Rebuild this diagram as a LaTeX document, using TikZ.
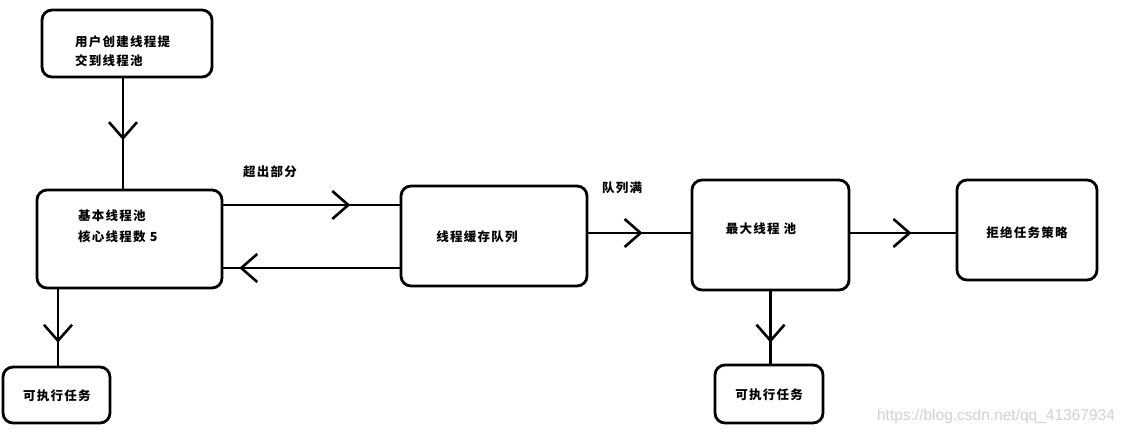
\documentclass[tikz,border=0pt]{standalone}
\usepackage{fontspec}
\newfontfamily\cjk[LetterSpace=10]{Noto Sans CJK SC}
\newfontfamily\wmfont{Liberation Sans}
\usetikzlibrary{arrows.meta,decorations.markings}

\begin{document}
\begin{tikzpicture}[x=1pt,y=-1pt,
	box/.style={draw,line width=2.8pt,rounded corners=10pt,inner sep=0pt},
	txt/.style={font=\cjk\bfseries\fontsize{12.5}{19}\selectfont,inner sep=0pt},
	midarr/.style={line width=2.6pt,postaction={decorate},decoration={markings,
		mark=at position #1 with {\arrow{Straight Barb[length=16pt,width=28pt]}}}}]
	\useasboundingbox (0,0) rectangle (1127,434);

	\node[box,minimum width=170pt,minimum height=67pt] (user) at (127,43.5) {};
	\node[box,minimum width=185pt,minimum height=98pt] (core) at (129.5,239) {};
	\node[box,minimum width=186pt,minimum height=100pt] (queue) at (494,236) {};
	\node[box,minimum width=157pt,minimum height=110pt] (maxpool) at (770.5,235) {};
	\node[box,minimum width=140pt,minimum height=100pt] (reject) at (1027,230) {};
	\node[box,minimum width=107pt,minimum height=56pt] (exec1) at (56.5,395) {};
	\node[box,minimum width=108pt,minimum height=58pt] (exec2) at (769,394) {};

	\node[txt,anchor=west,align=left] (usertxt) at (75,51) {用户创建线程提\\交到线程池};
	\node[txt,anchor=west,align=left] (coretxt) at (78,226) {基本线程池\\[2pt]核心线程数 5};
	\node[txt] (queuetxt) at (477,237) {线程缓存队列};
	\node[txt] (maxtxt) at (761,229) {最大线程 池};
	\node[txt] (rejecttxt) at (1027,233) {拒绝任务策略};
	\node[txt] (exec1txt) at (57,396) {可执行任务};
	\node[txt] (exec2txt) at (769,395) {可执行任务};
	\node[txt] (over) at (270,172) {超出部分};
	\node[txt] (full) at (622,188) {队列满};

	\draw[midarr=0.56] ([xshift=-4pt]user.south) -- ([xshift=-6.5pt]core.north);
	\draw[midarr=0.72] ([yshift=34pt]core.east) -- ([yshift=31pt]queue.west);
	\draw[midarr=0.91] ([yshift=-32pt]queue.west) -- ([yshift=-29pt]core.east);
	\draw[midarr=0.53] ([yshift=3pt]queue.east) -- ([yshift=2pt]maxpool.west);
	\draw[midarr=0.58] ([yshift=2pt]maxpool.east) -- ([yshift=-3pt]reject.west);
	\draw[midarr=0.70] ([xshift=-71.5pt]core.south) -- ([xshift=1.5pt]exec1.north);
	\draw[midarr=0.71] (maxpool.south) -- ([xshift=1.5pt]exec2.north);

	\node[font=\wmfont\fontsize{15.5}{18}\selectfont,text=black!18,inner sep=0pt] (mark) at (996,416) {https://blog.csdn.net/qq\_41367934};
\end{tikzpicture}
\end{document}
